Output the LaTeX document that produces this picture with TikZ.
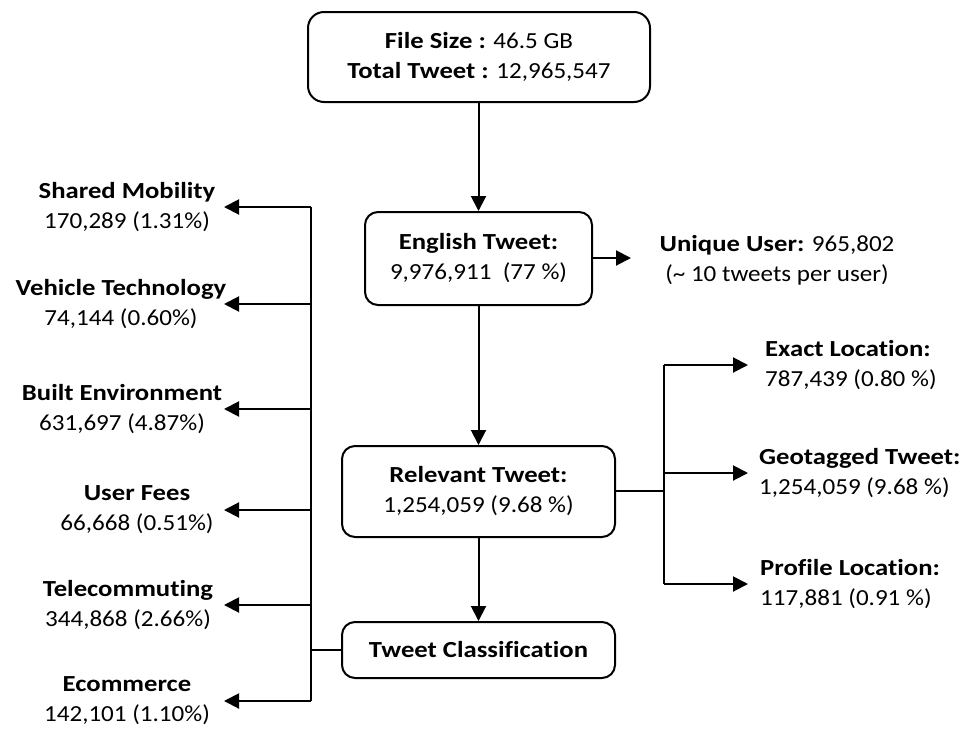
\documentclass[tikz,border=0pt]{standalone}
\usepackage{fontspec}
\setmainfont{Carlito}[Ligatures=CommonOff, FakeStretch=1.09, BoldFeatures={FakeStretch=1.16}]
\usetikzlibrary{arrows.meta}

\tikzset{
  box/.style={draw, line width=2pt, rounded corners=13pt, align=center, inner sep=0pt},
  lbl/.style={align=center, inner sep=0pt},
  rlbl/.style={align=left, anchor=west, inner sep=0pt},
  link/.style={line width=2pt},
  arr/.style={line width=2pt, -{Triangle[length=15pt,width=15pt]}},
}

\begin{document}
\begin{tikzpicture}[x=1pt, y=-1pt, font=\fontsize{23}{30}\selectfont]
\useasboundingbox (0,0) rectangle (963,731);

% main pipeline
\node[box, rounded corners=16pt, minimum width=342pt, minimum height=90pt] (top) at (479,57)
  {\textbf{File Size :} 46.5 GB\\\textbf{Total Tweet :} 12,965,547};
\node[box, minimum width=227pt, minimum height=93pt] (eng) at (478.5,258.5)
  {\textbf{English Tweet:}\\9,976,911\ \ (77 \%)};
\node[box, minimum width=273pt, minimum height=91pt] (rel) at (478.5,491.5)
  {\textbf{Relevant Tweet:}\\1,254,059 (9.68 \%)};
\node[box, minimum width=273pt, minimum height=56pt] (cls) at (478.5,650)
  {\textbf{Tweet Classification}};

% user statistics
\node[lbl] (uniq) at (777,260) {\textbf{Unique User:} 965,802\\(\~{} 10 tweets per user)};

% location breakdown
\node[rlbl] (exact) at (765,365) {\textbf{Exact Location:}\\787,439 (0.80 \%)};
\node[rlbl] (geo) at (759,473) {\textbf{Geotagged Tweet:}\\1,254,059 (9.68 \%)};
\node[rlbl] (prof) at (760,584) {\textbf{Profile Location:}\\117,881 (0.91 \%)};

% topic classes
\node[lbl] (sm) at (127,207) {\textbf{Shared Mobility}\\170,289 (1.31\%)};
\node[lbl] (vt) at (121,304) {\textbf{Vehicle Technology}\\74,144 (0.60\%)};
\node[lbl] (be) at (122,409) {\textbf{Built Environment}\\631,697 (4.87\%)};
\node[lbl] (uf) at (137,510) {\textbf{User Fees}\\66,668 (0.51\%)};
\node[lbl] (tc) at (128,605) {\textbf{Telecommuting}\\344,868 (2.66\%)};
\node[lbl] (ec) at (127,701) {\textbf{Ecommerce}\\142,101 (1.10\%)};

% trunk coordinates
\coordinate (rt) at (664,491);
\coordinate (lt) at (311,650);
\coordinate (ltip) at (224,650);
\coordinate (rtip) at (748,491);
\coordinate (utip) at (631,258);

% vertical flow
\draw[arr] (top.south -| eng.north) -- (eng.north);
\draw[arr] (eng.south) -- (rel.north);
\draw[arr] (rel.south) -- (cls.north);
\draw[arr] (eng.east |- utip) -- (utip);

% right branching
\draw[link] (rel.east |- rt) -- (rt);
\draw[link] (rt |- exact.west) -- (rt |- prof.west);
\draw[arr] (rt |- exact.west) -- (rtip |- exact.west);
\draw[arr] (rt |- geo.west) -- (rtip |- geo.west);
\draw[arr] (rt |- prof.west) -- (rtip |- prof.west);

% left branching
\draw[link] (cls.west |- lt) -- (lt);
\draw[link] (lt |- sm) -- (lt |- ec);
\foreach \n in {sm,vt,be,uf,tc,ec}
  \draw[arr] (lt |- \n) -- (ltip |- \n);
\end{tikzpicture}
\end{document}
